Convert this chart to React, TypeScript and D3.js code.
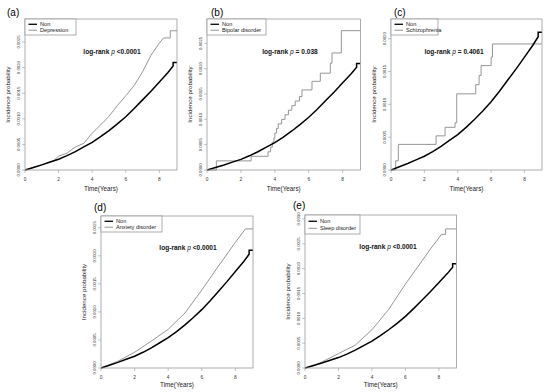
import React from "react";
import * as d3 from "d3";

// ---- data ----
const xTicks = [0, 2, 4, 6, 8];

// reference group "Non" (same cohort in every panel)
const nonTimes = [0, 0.5, 1, 1.5, 2, 2.5, 3, 3.5, 4, 4.5, 5, 5.5, 6, 6.5, 7, 7.5, 8, 8.5, 8.82, 8.82, 9.05];
const nonValues = [0, 0.00005, 0.0001, 0.000155, 0.00021, 0.00028, 0.00036, 0.00045, 0.00054, 0.00065, 0.00077, 0.0009, 0.00104, 0.0012, 0.00137, 0.00154, 0.00172, 0.0019, 0.00203, 0.0021, 0.0021];

const depressionTimes = [0, 0.8, 1.7, 2.0, 2.5, 3.0, 3.5, 3.7, 4.0, 4.5, 5.0, 5.5, 6.0, 6.5, 7.0, 7.5, 8.0, 8.25, 8.65, 8.65, 9.05];
const depressionValues = [0, 0.00008, 0.00018, 0.00027, 0.00033, 0.00045, 0.00052, 0.0006, 0.00072, 0.00088, 0.00105, 0.00126, 0.00145, 0.00165, 0.00192, 0.00224, 0.00248, 0.00258, 0.00258, 0.00272, 0.00272];

const bipolarTimes = [0, 0.55, 2.6, 3.6, 3.75, 3.85, 3.95, 4.0, 4.1, 4.2, 4.4, 4.6, 4.8, 5.0, 5.2, 5.45, 5.6, 6.19, 6.68, 7.27, 7.37, 7.92, 9.05];
const bipolarValues = [0, 0.00018, 0.00027, 0.00036, 0.00045, 0.00055, 0.00064, 0.00073, 0.00082, 0.00091, 0.001, 0.00109, 0.00118, 0.00127, 0.00136, 0.00145, 0.00158, 0.00175, 0.00191, 0.00211, 0.00231, 0.00275, 0.00275];

const schizoTimes = [0, 0.28, 0.44, 2.7, 3.24, 3.84, 3.94, 5.08, 5.28, 5.4, 6.0, 6.08, 9.05];
const schizoValues = [0, 0.00014, 0.00039, 0.00052, 0.00065, 0.00072, 0.00116, 0.0013, 0.00144, 0.00159, 0.00172, 0.00192, 0.00192];

const anxietyTimes = [0, 1, 2, 3, 4, 5, 6, 7, 8, 8.6, 9.05];
const anxietyValues = [0, 0.00012, 0.00028, 0.00048, 0.00069, 0.00098, 0.00139, 0.00182, 0.00224, 0.00248, 0.00248];

const sleepTimes = [0, 0.5, 1, 2, 3, 4, 5, 6, 7, 7.5, 8, 8.15, 8.4, 8.4, 9.05];
const sleepValues = [0, 0.00004, 0.00012, 0.00029, 0.00046, 0.00077, 0.00118, 0.00169, 0.00216, 0.0024, 0.00262, 0.00269, 0.00269, 0.0028, 0.0028];

const panelLabels = ["(a)", "(b)", "(c)", "(d)", "(e)"];
const groupNames = ["Depression", "Bipolar disorder", "Schizophrenia", "Anxiety disorder", "Sleep disorder"];
const pTexts = ["<0.0001", "= 0.038", "= 0.4061", "<0.0001", "<0.0001"];
const yTickSets = [
  [0, 0.0005, 0.001, 0.0015, 0.002, 0.0025],
  [0, 0.0005, 0.001, 0.0015, 0.002, 0.0025],
  [0, 0.0005, 0.001, 0.0015, 0.002],
  [0, 0.0005, 0.001, 0.0015, 0.002, 0.0025],
  [0, 0.0005, 0.001, 0.0015, 0.002, 0.0025, 0.003],
];
const yMaxes = [0.00295, 0.00298, 0.0023, 0.00271, 0.00308];

const FONT = "'Liberation Sans', Arial, Helvetica, sans-serif";
const GRAY = "#8a8a8a";
const BOX = "#9a9a9a";

type Layout = {
  left: number; right: number; top: number; bottom: number;
  labelX: number; labelY: number; pX: number; pY: number;
  legendW: number; legendH: number; xTitleY: number; stepCurve: boolean;
};

const layouts: Layout[] = [
  { left: 25, right: 177, top: 19, bottom: 170, labelX: 7, labelY: 16, pX: 112, pY: 54, legendW: 51, legendH: 16, xTitleY: 191, stepCurve: false },
  { left: 207, right: 360.5, top: 19, bottom: 170, labelX: 211, labelY: 16, pX: 290, pY: 54, legendW: 59, legendH: 16, xTitleY: 191, stepCurve: true },
  { left: 391, right: 542, top: 19, bottom: 170, labelX: 394, labelY: 16, pX: 454, pY: 54, legendW: 47, legendH: 16, xTitleY: 191, stepCurve: true },
  { left: 101, right: 253, top: 216, bottom: 368, labelX: 94, labelY: 211, pX: 188, pY: 250, legendW: 61, legendH: 16, xTitleY: 387, stepCurve: false },
  { left: 305, right: 456.5, top: 215, bottom: 368, labelX: 293, labelY: 209, pX: 388, pY: 249, legendW: 55, legendH: 19, xTitleY: 387, stepCurve: false },
];

const groupTimes = [depressionTimes, bipolarTimes, schizoTimes, anxietyTimes, sleepTimes];
const groupValues = [depressionValues, bipolarValues, schizoValues, anxietyValues, sleepValues];

function Panel({ i }: { i: number }) {
  const L = layouts[i];
  const x = d3.scaleLinear().domain([0, 9.05]).range([L.left, L.right]);
  const y = d3.scaleLinear().domain([0, yMaxes[i]]).range([L.bottom, L.top]);
  const lineLin = d3.line<[number, number]>().x((d) => x(d[0])).y((d) => y(d[1]));
  const lineStep = d3.line<[number, number]>().x((d) => x(d[0])).y((d) => y(d[1])).curve(d3.curveStepAfter);
  const nonPts = nonTimes.map((t, k) => [t, nonValues[k]] as [number, number]);
  const gPts = groupTimes[i].map((t, k) => [t, groupValues[i][k]] as [number, number]);
  const gPath = (L.stepCurve ? lineStep : lineLin)(gPts) || "";
  const midY = (L.top + L.bottom) / 2;
  const fmt = d3.format(".4f");
  return (
    <g fontFamily={FONT}>
      <text x={L.labelX} y={L.labelY} fontSize={10} fill="#000">{panelLabels[i]}</text>
      <defs>
        <clipPath id={`clip${i}`}>
          <rect x={L.left} y={L.top} width={L.right - L.left} height={L.bottom - L.top + 1} />
        </clipPath>
      </defs>
      <g clipPath={`url(#clip${i})`}>
        <path d={gPath} fill="none" stroke={GRAY} strokeWidth={0.9} />
        <path d={lineLin(nonPts) || ""} fill="none" stroke="#000" strokeWidth={1.5} />
      </g>
      <rect x={L.left} y={L.top} width={L.right - L.left} height={L.bottom - L.top} fill="none" stroke={BOX} strokeWidth={0.8} />
      {/* y axis */}
      {yTickSets[i].map((v) => (
        <g key={v}>
          <line x1={L.left - 3} x2={L.left} y1={y(v)} y2={y(v)} stroke={BOX} strokeWidth={0.6} />
          <text transform={`translate(${L.left - 5.5},${y(v)}) rotate(-90)`} textAnchor="middle" fontSize={4.3} fill="#333">{fmt(v)}</text>
        </g>
      ))}
      {/* x axis */}
      {xTicks.map((t) => (
        <g key={t}>
          <line x1={x(t)} x2={x(t)} y1={L.bottom} y2={L.bottom + 3} stroke={BOX} strokeWidth={0.6} />
          <text x={x(t)} y={L.bottom + 10.5} textAnchor="middle" fontSize={4.8} fill="#333">{t}</text>
        </g>
      ))}
      <text x={(L.left + L.right) / 2} y={L.xTitleY} textAnchor="middle" fontSize={6.3} fill="#222">Time(Years)</text>
      <text transform={`translate(${L.left - 15},${midY}) rotate(-90)`} textAnchor="middle" fontSize={6.2} fill="#222">Incidence probability</text>
      {/* legend */}
      <rect x={L.left} y={L.top} width={L.legendW} height={L.legendH} fill="#fff" stroke={BOX} strokeWidth={0.8} />
      <line x1={L.left + 3.5} x2={L.left + 12} y1={L.top + L.legendH * 0.33} y2={L.top + L.legendH * 0.33} stroke="#000" strokeWidth={1.3} />
      <line x1={L.left + 3.5} x2={L.left + 12} y1={L.top + L.legendH * 0.7} y2={L.top + L.legendH * 0.7} stroke={GRAY} strokeWidth={0.9} />
      <text x={L.left + 15} y={L.top + L.legendH * 0.33 + 2} fontSize={5.6} fill="#222">Non</text>
      <text x={L.left + 15} y={L.top + L.legendH * 0.7 + 2} fontSize={5.6} fill="#222">{groupNames[i]}</text>
      {/* log-rank */}
      <text x={L.pX} y={L.pY} textAnchor="middle" fontSize={6.6} fontWeight="bold" fill="#111">
        log-rank <tspan fontStyle="italic" fontWeight="normal">p</tspan> {pTexts[i]}
      </text>
    </g>
  );
}

export default function App() {
  return (
    <svg width={550} height={392} style={{ position: "absolute", left: 0, top: 0, background: "#fff" }}>
      <rect x={0} y={0} width={550} height={392} fill="#fff" />
      {[0, 1, 2, 3, 4].map((i) => <Panel key={i} i={i} />)}
    </svg>
  );
}
